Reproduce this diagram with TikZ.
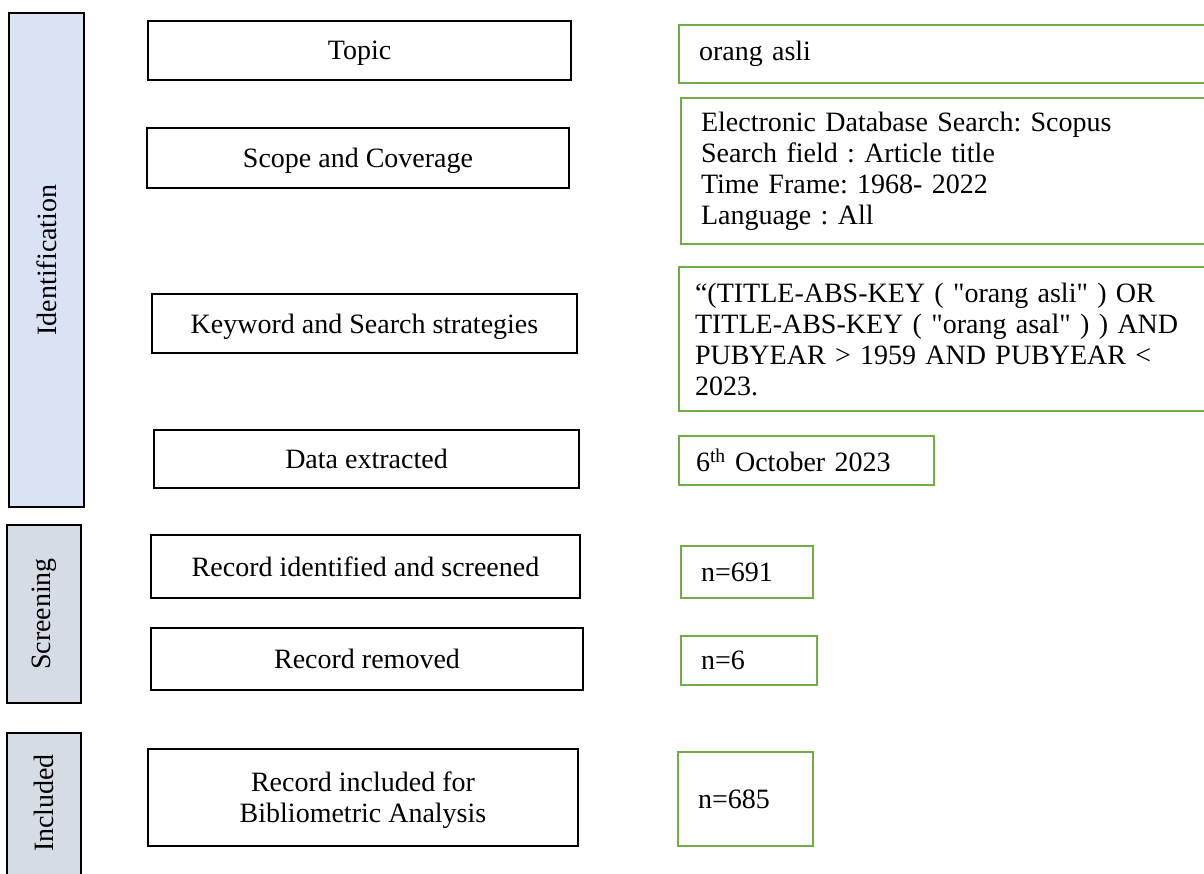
\documentclass[tikz,border=0pt]{standalone}
\usepackage{fontspec}
\setmainfont{Liberation Serif}[Ligatures=TeXOff]
\frenchspacing
\definecolor{boxgreen}{HTML}{70AD47}
\definecolor{identfill}{HTML}{DAE3F3}
\definecolor{phasefill}{HTML}{D6DCE5}
\tikzset{
	stepbox/.style={draw=black, line width=2pt, minimum height=#1, inner sep=0pt, text depth=0pt, align=center},
	infobox/.style={draw=boxgreen, line width=2pt, anchor=west, minimum height=#1, inner xsep=20pt, inner ysep=0pt, align=left},
	phasebar/.style={draw=black, line width=2.4pt, fill=phasefill}
}
\begin{document}
\begin{tikzpicture}[x=1pt, y=-1pt, font=\fontsize{28}{31}\selectfont]
		\useasboundingbox (0,0) rectangle (1204,874);
		\node[phasebar, fill=identfill, rotate=90, minimum width=494, minimum height=75, inner sep=0pt] (ident) at (46.5,260) {Identification};
		\node[phasebar, rotate=90, minimum width=178, minimum height=74, inner sep=0pt] (screen) at (44,614) {Screening};
		\path[phasebar] (7,733) rectangle (81,900);
		\node[rotate=90] (incl) at (44,803) {Included};

		\node[stepbox=59, minimum width=423] (topic) at (359.5,50.5) {Topic};
		\node[stepbox=60, minimum width=422] (scope) at (358,158) {Scope and Coverage};
		\node[stepbox=59, minimum width=425] (keyword) at (364.5,323.5) {Keyword and Search strategies};
		\node[stepbox=58, minimum width=425] (data) at (366.5,459) {Data extracted};
		\node[stepbox=63, minimum width=429] (screened) at (365.5,566.5) {Record identified and screened};
		\node[stepbox=62, minimum width=432] (removed) at (367,659) {Record removed};
		\node[stepbox=97, minimum width=430] (included) at (363,797.5) {Record included for\\Bibliometric Analysis};

		\node[infobox=58, text width=502] (asli) at (678,54) {orang asli};
		\node[infobox=146, text width=500] (search) at (680,171.5) {Electronic Database Search: Scopus\\Search field : Article title\\Time Frame: 1968- 2022\\Language : All};
		\node[infobox=144, inner xsep=16pt, text width=510] (query) at (678,339) {“(TITLE-ABS-KEY ( "orang asli" ) OR\\TITLE-ABS-KEY ( "orang asal" ) ) AND\\PUBYEAR > 1959 AND PUBYEAR <\\2023.};
		\node[infobox=49, inner xsep=17pt, text width=221] (date) at (678,460.5) {6\textsuperscript{th} October 2023};
		\node[infobox=52, text width=92] (n691) at (680,572) {n=691};
		\node[infobox=49, text width=96] (n6) at (680,660.5) {n=6};
		\node[infobox=94, text width=95] (n685) at (677,799) {n=685};
\end{tikzpicture}
\end{document}
